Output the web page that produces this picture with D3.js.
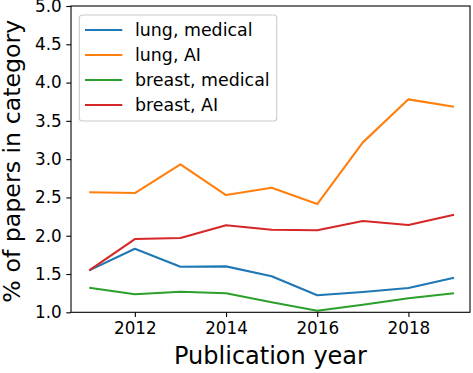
<!DOCTYPE html>
<html>
<head>
<meta charset="utf-8">
<script src="https://cdn.jsdelivr.net/npm/d3@7"></script>
<style>
  body { margin: 0; background: #fff; }
  #chart { width: 473px; height: 373px; }
  text { font-family: "DejaVu Sans", sans-serif; fill: #000; }
</style>
</head>
<body>
<div id="chart"></div>
<script>
const years = [2011, 2012, 2013, 2014, 2015, 2016, 2017, 2018, 2019];
const lungMedical = [1.548, 1.83, 1.595, 1.6, 1.47, 1.222, 1.265, 1.317, 1.452];
const lungAI = [2.567, 2.557, 2.932, 2.531, 2.627, 2.414, 3.219, 3.781, 3.684];
const breastMedical = [1.321, 1.235, 1.269, 1.248, 1.131, 1.021, 1.099, 1.183, 1.248];
const breastAI = [1.548, 1.957, 1.97, 2.136, 2.079, 2.071, 2.192, 2.14, 2.274];
const seriesNames = ["lung, medical", "lung, AI", "breast, medical", "breast, AI"];
const xTicks = [2012, 2014, 2016, 2018];
const yTicks = [1.0, 1.5, 2.0, 2.5, 3.0, 3.5, 4.0, 4.5, 5.0];

class LineChart {
  constructor(el) {
    this.el = el;
    this.initChart();
  }
  initChart() {
    let that = this;
    const margin = { left: 71, right: 3, top: 6, bottom: 60.7 };
    const width = 473;
    const height = 373;
    that.innerWidth = width - margin.left - margin.right;
    that.innerHeight = height - margin.top - margin.bottom;

    const svg = d3
      .select(`#${this.el}`)
      .append("svg")
      .attr("width", width)
      .attr("height", height);

    that.mainGroup = svg
      .append("g")
      .attr("class", "mainGroup")
      .attr("transform", `translate(${margin.left},${margin.top})`);

    // matplotlib style padding around 2011..2019
    that.xScale = d3.scaleLinear().domain([2010.6, 2019.35]).range([0, that.innerWidth]);
    that.yScale = d3.scaleLinear().domain([1, 5]).range([that.innerHeight, 0]);
    that.color = d3.scaleOrdinal()
      .domain(seriesNames)
      .range(["#1f77b4", "#ff7f0e", "#2ca02c", "#d62728"]);
  }
  updateChart(data) {
    const that = this;
    const g = that.mainGroup;

    const line = d3
      .line()
      .x((d) => that.xScale(d.year))
      .y((d) => that.yScale(d.value));

    g.selectAll(".series")
      .data(data)
      .join("path")
      .attr("class", "series")
      .attr("fill", "none")
      .attr("stroke", (d) => that.color(d.name))
      .attr("stroke-width", 2.1)
      .attr("stroke-linejoin", "round")
      .attr("d", (d) => line(d.values));

    const xAxis = d3.axisBottom(that.xScale).tickValues(xTicks)
      .tickFormat(d3.format("d")).tickSize(4.7).tickPadding(4.5);
    const yAxis = d3.axisLeft(that.yScale).tickValues(yTicks)
      .tickFormat(d3.format(".1f")).tickSize(4.7).tickPadding(4.5);

    const gx = g.append("g")
      .attr("class", "x-axis axis")
      .attr("transform", `translate(0,${that.innerHeight})`)
      .call(xAxis);
    const gy = g.append("g").attr("class", "y-axis axis").call(yAxis);

    [gx, gy].forEach((a) => {
      a.select(".domain").remove();
      a.selectAll(".tick line").attr("stroke", "#000").attr("stroke-width", 1.1);
      a.selectAll(".tick text").attr("font-size", "16.8px").attr("fill", "#000");
    });
    gx.selectAll(".tick text").attr("dy", "0.72em");

    // frame (all four spines)
    g.append("rect")
      .attr("x", 0)
      .attr("y", 0)
      .attr("width", that.innerWidth)
      .attr("height", that.innerHeight)
      .attr("fill", "none")
      .attr("stroke", "#000")
      .attr("stroke-width", 1.1);

    g.append("text")
      .attr("class", "myXtext")
      .attr("x", that.innerWidth / 2)
      .attr("y", 358)
      .attr("text-anchor", "middle")
      .attr("font-size", "24px")
      .text("Publication year");

    g.append("text")
      .attr("class", "myYtext")
      .attr("transform", `translate(${19.5 - 71},${that.innerHeight / 2 + 2}) rotate(-90)`)
      .attr("text-anchor", "middle")
      .attr("font-size", "23.7px")
      .text("% of papers in category");

    // legend
    const legend = g.append("g")
      .attr("class", "legend")
      .attr("transform", `translate(${79.3 - 71},${15 - 6})`);
    legend.append("rect")
      .attr("width", 197.4)
      .attr("height", 106)
      .attr("rx", 3)
      .attr("fill", "#fff")
      .attr("fill-opacity", 0.8)
      .attr("stroke", "#cccccc")
      .attr("stroke-width", 1.1);
    const items = legend.selectAll(".item")
      .data(seriesNames)
      .join("g")
      .attr("class", "item")
      .attr("transform", (d, i) => `translate(0,${15 + i * 25})`);
    items.append("line")
      .attr("x1", 5.7)
      .attr("x2", 43)
      .attr("stroke", (d) => that.color(d))
      .attr("stroke-width", 2.1);
    items.append("text")
      .attr("x", 55.7)
      .attr("dy", "0.36em")
      .attr("font-size", "17.4px")
      .text((d) => d);
  }
}

const seriesValues = [lungMedical, lungAI, breastMedical, breastAI];
const chartData = seriesNames.map((name, i) => ({
  name,
  values: years.map((year, j) => ({ year, value: seriesValues[i][j] })),
}));

const chart = new LineChart("chart");
chart.updateChart(chartData);
</script>
</body>
</html>
